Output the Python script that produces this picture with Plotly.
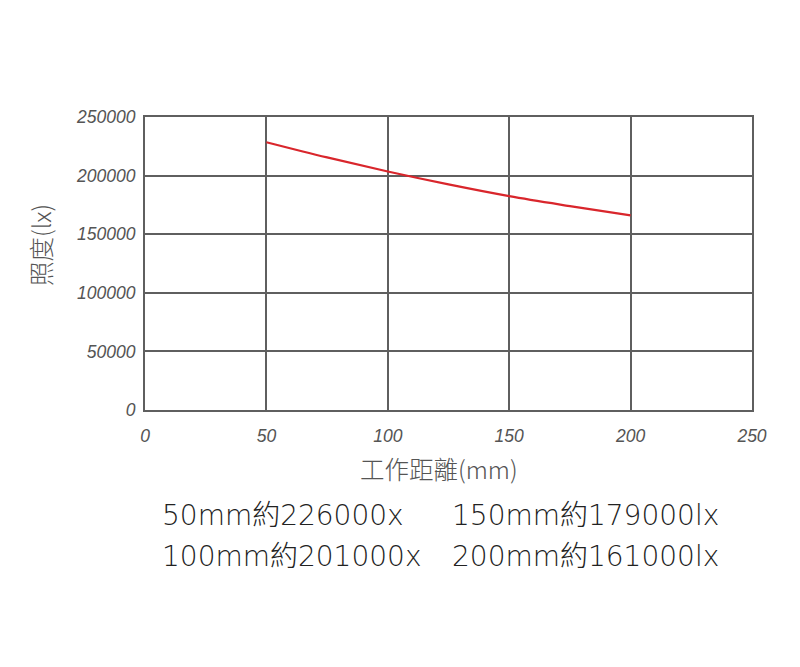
import plotly.graph_objects as go

distance_mm = [50, 75, 100, 125, 150, 175, 200]
illuminance_lx = [228500, 215500, 203500, 192500, 182500, 174000, 166000]

x_ticks = [0, 50, 100, 150, 200, 250]
y_ticks = [0, 50000, 100000, 150000, 200000, 250000]

notes_left = ["50mm約226000x", "100mm約201000x"]
notes_right = ["150mm約179000lx", "200mm約161000lx"]

grid_c = "#5f5f5f"
text_c = "#555555"

# page body adds 8px offset
OFF = 8
L, R, T, B = 145 - OFF, 48 + OFF, 117 - OFF, 257 + OFF
W, H = 800, 667

fig = go.Figure()
fig.add_trace(go.Scatter(
    x=distance_mm, y=illuminance_lx, mode="lines",
    line=dict(color="#d9262c", width=2.2, shape="spline", smoothing=1.0),
    hoverinfo="skip", showlegend=False,
))

fig.update_layout(
    width=W, height=H,
    margin=dict(l=L, r=R, t=T, b=B),
    paper_bgcolor="white", plot_bgcolor="white",
    font=dict(family="Liberation Sans, Arial", color=text_c),
    xaxis=dict(
        range=[0, 250], tickvals=x_ticks, ticktext=[str(v) for v in x_ticks],
        showgrid=True, gridcolor=grid_c, gridwidth=2,
        showline=True, linecolor=grid_c, linewidth=2, mirror=True,
        zeroline=False, ticks="", ticklabelstandoff=9,
        tickfont=dict(family="Liberation Sans", size=17.5, color=text_c, style="italic"),
    ),
    yaxis=dict(
        range=[0, 250000], tickvals=y_ticks, ticktext=[str(v) for v in y_ticks],
        showgrid=True, gridcolor=grid_c, gridwidth=2,
        showline=True, linecolor=grid_c, linewidth=2, mirror=True,
        zeroline=False, ticks="", ticklabelstandoff=4,
        tickfont=dict(family="Liberation Sans", size=17.5, color=text_c, style="italic"),
    ),
)

plot_w = W - L - R
plot_h = H - T - B
def px_to_paper(px, py):
    px -= OFF
    py -= OFF
    return (px - L) / plot_w, (H - B - py) / plot_h

title_font = dict(family="Noto Sans CJK TC", size=24.5, color=text_c, weight=300)

# axis titles placed as annotations
yx, yy = px_to_paper(40, 245)
fig.add_annotation(x=yx, y=yy, xref="paper", yref="paper", text="照度(lx)",
                   textangle=-90, showarrow=False, xanchor="center", yanchor="middle",
                   font=title_font)
xx, xy = px_to_paper(439, 468)
fig.add_annotation(x=xx, y=xy, xref="paper", yref="paper", text="工作距離(mm)",
                   showarrow=False, xanchor="center", yanchor="middle",
                   font=title_font)

note_font = dict(family="DejaVu Sans, Noto Sans CJK TC", size=28, color="#222222", weight=200)
for i, (a, b) in enumerate(zip(notes_left, notes_right)):
    py = 515 + i * 41
    xl, yl = px_to_paper(160, py)
    xr, yr = px_to_paper(450, py)
    fig.add_annotation(x=xl, y=yl, xref="paper", yref="paper", text=a,
                       showarrow=False, xanchor="left", yanchor="middle", font=note_font)
    fig.add_annotation(x=xr, y=yr, xref="paper", yref="paper", text=b,
                       showarrow=False, xanchor="left", yanchor="middle", font=note_font)

fig.write_html("out.html")
